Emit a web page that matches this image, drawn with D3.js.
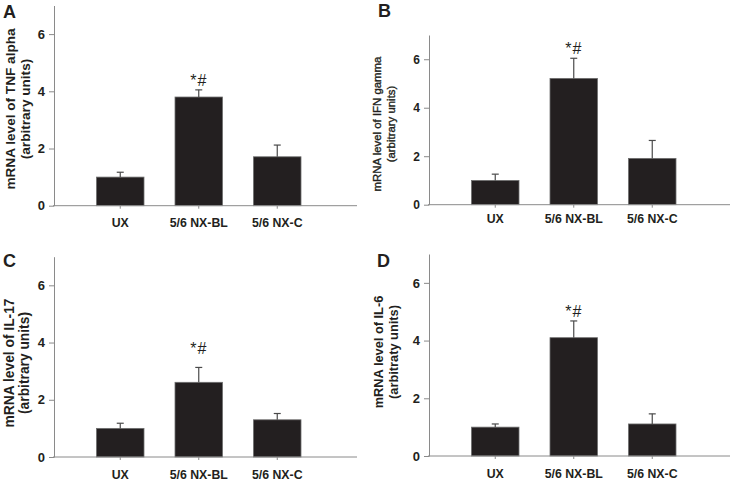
<!DOCTYPE html>
<html><head><meta charset="utf-8">
<script src="https://cdn.jsdelivr.net/npm/d3@7"></script>
<style>
html,body{margin:0;padding:0;background:#fff;}
svg{display:block;font-family:"Liberation Sans",Arial,sans-serif;}
</style></head>
<body>
<svg id="c" width="731" height="483"></svg>
<script>
const categories = ["UX", "5/6 NX-BL", "5/6 NX-C"];
const yTicks = [0, 2, 4, 6];
const tnfMean = [1.0, 3.80, 1.71];
const tnfErr  = [0.17, 0.25, 0.41];
const ifnMean = [1.0, 5.21, 1.91];
const ifnErr  = [0.26, 0.83, 0.74];
const il17Mean = [1.0, 2.61, 1.30];
const il17Err  = [0.18, 0.52, 0.22];
const il6Mean = [1.0, 4.10, 1.11];
const il6Err  = [0.11, 0.58, 0.35];
const sigLabel = ["", "*#", ""];

const panels = [
  {letter:"A", mean:tnfMean, err:tnfErr, label:["mRNA level of TNF alpha","(arbitrary units)"],
   x0:54, xEnd:357, yBase:205.7, yTop:5.5, lx:[3,18], lab:{x:[10,25], y:109, size:13.6, weight:"bold"}, tick:13, sigOff:4},
  {letter:"B", mean:ifnMean, err:ifnErr, label:["mRNA level of IFN gamma","(arbitrary units)"],
   x0:429, xEnd:730, yBase:204.7, yTop:35, lx:[378,17], lab:{x:[377,391], y:124, size:11.4, weight:"normal", stroke:0.35}, tick:12, sigOff:4, catOff:18.3},
  {letter:"C", mean:il17Mean, err:il17Err, label:["mRNA level of IL-17","(arbitrary units)"],
   x0:54, xEnd:357, yBase:457, yTop:256.7, lx:[3,267], lab:{x:[9,24.5], y:363, size:13.8, weight:"bold"}, tick:13, sigOff:13},
  {letter:"D", mean:il6Mean, err:il6Err, label:["mRNA level of IL-6","(arbitraty units)"],
   x0:429, xEnd:730, yBase:456, yTop:254, lx:[377,267], lab:{x:[379,393.5], y:352, size:12.8, weight:"bold"}, tick:13, sigOff:4}
];

const svg = d3.select("#c");
const ink = "#231f20", axisCol = "#8a8a8a";

panels.forEach(p => {
  const g = svg.append("g");
  const y = d3.scaleLinear().domain([0, 7]).range([p.yBase, p.yTop]);
  const x = d3.scaleBand().domain(categories).range([p.x0 + 27, p.x0 + 262.5])
    .paddingInner(0.395).paddingOuter(0.1975);

  g.append("text").attr("x", p.lx[0]).attr("y", p.lx[1]).text(p.letter)
    .attr("font-size", 18).attr("font-weight", "bold").attr("fill", ink);

  const ya = g.append("g").attr("transform", `translate(${p.x0},0)`)
    .call(d3.axisLeft(y).tickValues(yTicks).tickFormat(d3.format("d")).tickSize(5).tickPadding(4).tickSizeOuter(0));
  ya.select(".domain").attr("stroke", axisCol);
  ya.selectAll(".tick line").attr("stroke", axisCol);
  ya.selectAll(".tick text").attr("fill", ink).attr("font-size", p.tick).attr("font-weight", "bold")
    .attr("font-family", '"Liberation Sans",Arial,sans-serif');

  g.selectAll("rect.bar").data(categories).join("rect")
    .attr("x", d => x(d)).attr("width", x.bandwidth())
    .attr("y", (d, i) => y(p.mean[i])).attr("height", (d, i) => y(0) - y(p.mean[i]))
    .attr("fill", ink).attr("stroke", "#6e6e6e").attr("stroke-width", 0.8);

  const eb = g.selectAll("g.eb").data(categories).join("g");
  eb.append("line")
    .attr("x1", d => x(d) + x.bandwidth() / 2).attr("x2", d => x(d) + x.bandwidth() / 2)
    .attr("y1", (d, i) => y(p.mean[i])).attr("y2", (d, i) => y(p.mean[i] + p.err[i]))
    .attr("stroke", "#4a4a4a").attr("stroke-width", 1.2);
  eb.append("line")
    .attr("x1", d => x(d) + x.bandwidth() / 2 - 3.5).attr("x2", d => x(d) + x.bandwidth() / 2 + 3.5)
    .attr("y1", (d, i) => y(p.mean[i] + p.err[i])).attr("y2", (d, i) => y(p.mean[i] + p.err[i]))
    .attr("stroke", "#4a4a4a").attr("stroke-width", 1.2);

  g.selectAll("text.sig").data(categories).join("text")
    .attr("x", d => x(d) + x.bandwidth() / 2)
    .attr("y", (d, i) => y(p.mean[i] + p.err[i]) - p.sigOff)
    .attr("text-anchor", "middle").attr("font-size", 16).attr("letter-spacing", 1).attr("fill", ink)
    .text((d, i) => sigLabel[i]);

  const catOff = p.catOff || 21.3;
  g.append("line").attr("x1", p.x0 - 1).attr("x2", p.xEnd).attr("y1", y(0)).attr("y2", y(0))
    .attr("stroke", axisCol).attr("stroke-width", 1);
  const xa = g.append("g").attr("transform", `translate(0,${y(0)})`)
    .call(d3.axisBottom(x).tickSize(3).tickPadding(catOff - 3 - 8.5).tickSizeOuter(0));
  xa.select(".domain").remove();
  xa.selectAll(".tick line").attr("stroke", axisCol);
  xa.selectAll(".tick text").attr("fill", ink).attr("font-size", 12.3).attr("font-weight", "bold")
    .attr("font-family", '"Liberation Sans",Arial,sans-serif');

  p.label.forEach((t, k) => {
    const tx = g.append("text")
      .attr("transform", `translate(${p.lab.x[k]},${p.lab.y}) rotate(-90)`)
      .attr("dy", "0.35em").attr("text-anchor", "middle")
      .attr("font-size", p.lab.size).attr("font-weight", p.lab.weight).attr("fill", ink)
      .text(t);
    if (p.lab.stroke) tx.attr("stroke", ink).attr("stroke-width", p.lab.stroke);
  });
});
</script>
</body></html>
